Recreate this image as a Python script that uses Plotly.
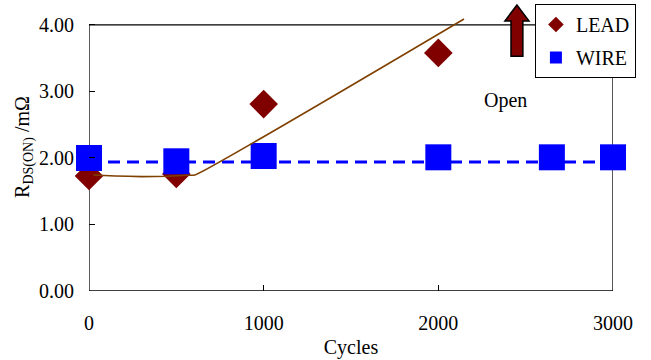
import plotly.graph_objects as go

lead_x = [0, 500, 1000, 2000]
lead_y = [1.73, 1.76, 2.81, 3.58]

wire_x = [0, 500, 1000, 2000, 2650, 3000]
wire_y = [2.00, 1.95, 2.03, 2.01, 2.01, 2.01]

avg_x = [0, 3000]
avg_y = [1.94, 1.94]

trend_x = [25, 150, 300, 450, 560, 607, 2147]
trend_y = [1.745, 1.73, 1.72, 1.725, 1.74, 1.745, 4.09]

x_ticks = [0, 1000, 2000, 3000]
y_ticks = [0, 1, 2, 3, 4]

FONT = "'Liberation Serif', 'Times New Roman', serif"
FS = 20

fig = go.Figure()
fig.add_trace(go.Scatter(x=avg_x, y=avg_y, mode="lines", showlegend=False,
                         line=dict(color="#0000FF", width=3, dash="12px,7px"),
                         hoverinfo="skip"))
fig.add_trace(go.Scatter(x=lead_x, y=lead_y, mode="markers", name="LEAD",
                         legendgroup="lead", cliponaxis=False,
                         marker=dict(symbol="diamond", size=22, color="#800000",
                                     line=dict(width=0))))
fig.add_trace(go.Scatter(x=wire_x, y=wire_y, mode="markers", name="WIRE",
                         legendgroup="wire", cliponaxis=False,
                         marker=dict(symbol="square", size=26, color="#0000FF",
                                     line=dict(width=0))))
fig.add_trace(go.Scatter(x=trend_x, y=trend_y, mode="lines", showlegend=False,
                         line=dict(color="#7F4000", width=1.6, shape="spline", smoothing=0.4),
                         hoverinfo="skip"))

# plot frame from (0,0) to (3000,4)
fig.add_shape(type="rect", x0=0, x1=3000, y0=0, y1=4, xref="x", yref="y",
              line=dict(color="black", width=1.3), layer="below")

# up arrow (open circuit)
ax, hw, sw = 2450, 69, 34
ytop, ybase, ybot = 4.30, 4.06, 3.53
path = (f"M {ax-sw},{ybot} L {ax+sw},{ybot} L {ax+sw},{ybase} L {ax+hw},{ybase} "
        f"L {ax},{ytop} L {ax-hw},{ybase} L {ax-sw},{ybase} Z")
fig.add_shape(type="path", path=path, xref="x", yref="y",
              fillcolor="#800000", line=dict(color="black", width=1.5))

fig.add_annotation(x=2382, y=2.87, text="Open", showarrow=False,
                   font=dict(family=FONT, size=FS, color="black"))

fig.update_layout(
    width=651, height=360,
    margin=dict(l=89, r=38, t=3, b=69),
    paper_bgcolor="white", plot_bgcolor="white",
    font=dict(family=FONT, size=FS, color="black"),
    legend=dict(x=0.851, y=0.9965, xanchor="left", yanchor="top",
                bgcolor="white", bordercolor="black", borderwidth=1,
                font=dict(family=FONT, size=FS), itemwidth=30,
                itemsizing="constant", tracegroupgap=4),
    xaxis=dict(range=[0, 3000], tickvals=x_ticks, ticks="inside", ticklen=6,
               tickcolor="black", showgrid=False, zeroline=False, showline=False,
               ticklabelstandoff=18,
               title=dict(text="Cycles", standoff=6, font=dict(size=FS))),
    yaxis=dict(range=[0, 4.33], tickvals=y_ticks, tickformat=".2f", ticks="inside",
               ticklen=6, tickcolor="black", showgrid=False, zeroline=False,
               showline=False, ticklabelstandoff=14,
               title=dict(text="R<sub>DS(ON)</sub> /mΩ", standoff=4, font=dict(size=FS))),
)

fig.write_html("out.html", config={"displayModeBar": False},
               post_script="document.body.style.margin='0px';")
